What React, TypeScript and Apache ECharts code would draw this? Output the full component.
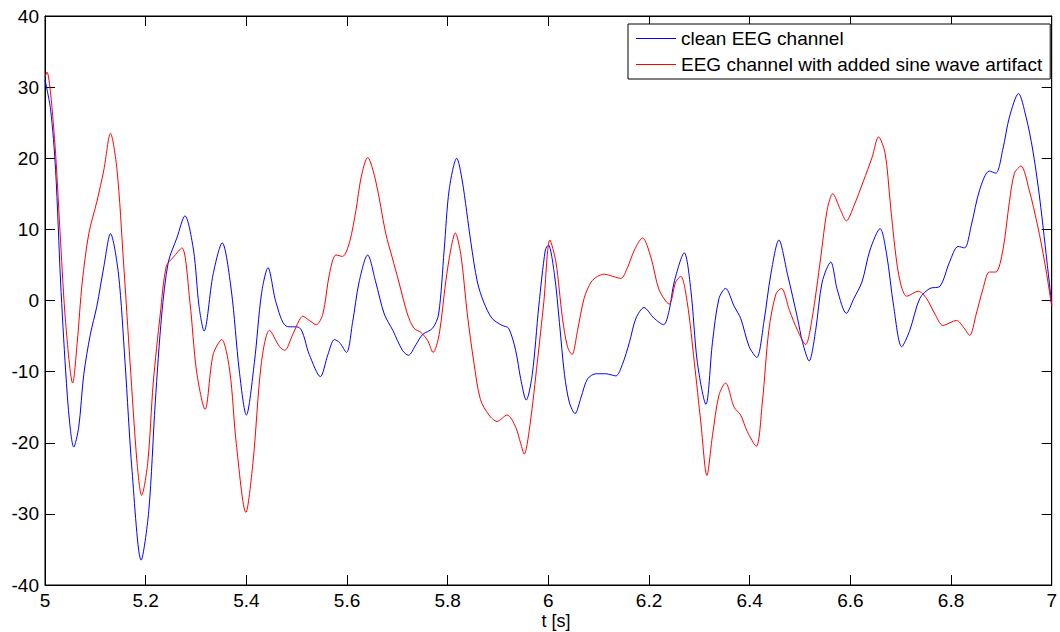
import React, { useEffect, useRef } from "react";
import * as echarts from "echarts";

const seriesNames = ["clean EEG channel", "EEG channel with added sine wave artifact"];
const xTicks = [5, 5.2, 5.4, 5.6, 5.8, 6, 6.2, 6.4, 6.6, 6.8, 7];
const yTicks = [-40, -30, -20, -10, 0, 10, 20, 30, 40];
const xLabel = "t [s]";

const blueT = [
  5.0, 5.011, 5.021, 5.031, 5.041, 5.049, 5.057, 5.067, 5.077, 5.09, 5.103, 5.117, 5.13, 5.146, 5.159, 5.173,
  5.191, 5.206, 5.219, 5.232, 5.245, 5.262, 5.278, 5.295, 5.306, 5.316, 5.334, 5.352, 5.37, 5.386, 5.4, 5.416,
  5.43, 5.443, 5.459, 5.479, 5.505, 5.525, 5.547, 5.562, 5.575, 5.585, 5.599, 5.611, 5.624, 5.641, 5.657, 5.674,
  5.691, 5.71, 5.722, 5.737, 5.75, 5.77, 5.782, 5.793, 5.803, 5.818, 5.829, 5.846, 5.859, 5.872, 5.888, 5.908,
  5.921, 5.935, 5.945, 5.956, 5.968, 5.981, 5.994, 6.0, 6.012, 6.022, 6.032, 6.042, 6.053, 6.065, 6.078, 6.095,
  6.114, 6.134, 6.147, 6.161, 6.174, 6.19, 6.21, 6.229, 6.24, 6.25, 6.27, 6.283, 6.296, 6.313, 6.326, 6.339,
  6.352, 6.369, 6.382, 6.399, 6.414, 6.428, 6.442, 6.458, 6.475, 6.495, 6.505, 6.518, 6.531, 6.544, 6.561, 6.574,
  6.592, 6.607, 6.623, 6.639, 6.659, 6.672, 6.686, 6.702, 6.718, 6.738, 6.758, 6.778, 6.797, 6.814, 6.827, 6.84,
  6.857, 6.876, 6.889, 6.903, 6.916, 6.934, 6.949, 6.962, 6.975, 6.988, 7.0,
];
const blueV = [
  31.0, 26.9, 18.4, 2.6, -9.9, -17.2, -20.6, -17.8, -10.4, -4.8, -0.8, 4.8, 9.4, 3.7, -8.7, -24.0,
  -36.5, -29.7, -14.4, -1.9, 5.4, 8.8, 11.9, 7.1, -0.8, -4.3, 3.7, 8.1, 1.5, -9.9, -16.1, -8.7,
  0.9, 4.6, -0.3, -3.6, -3.8, -7.6, -10.7, -7.6, -5.5, -5.9, -7.3, -3.1, 2.6, 6.4, 2.6, -1.9,
  -4.2, -7.0, -7.7, -6.2, -4.8, -3.9, -1.9, 7.1, 15.6, 20.0, 16.8, 8.2, 2.6, -0.3, -2.5, -3.5,
  -3.9, -7.0, -11.0, -14.0, -10.4, -0.8, 7.1, 7.8, 3.7, -3.1, -10.4, -14.4, -15.9, -13.6, -11.0, -10.3,
  -10.3, -10.6, -9.0, -5.9, -2.5, -1.0, -2.5, -3.4, -1.4, 2.6, 6.7, 1.5, -8.7, -14.6, -5.9, 0.3,
  1.7, -0.8, -2.5, -6.5, -8.0, -3.1, 3.7, 8.5, 3.7, -2.5, -5.9, -8.5, -4.2, 2.6, 5.4, 1.5,
  -1.8, 0.3, 2.6, 7.1, 10.1, 6.5, -0.8, -6.5, -4.2, 0.3, 1.7, 2.0, 5.4, 7.6, 7.4, 10.5,
  15.6, 18.2, 17.9, 21.3, 25.8, 29.1, 25.8, 21.3, 15.0, 7.1, -0.6,
];

const redT = [
  5.0, 5.004, 5.011, 5.021, 5.031, 5.041, 5.055, 5.064, 5.074, 5.087, 5.103, 5.117, 5.13, 5.143, 5.156, 5.169,
  5.183, 5.192, 5.204, 5.215, 5.229, 5.241, 5.255, 5.272, 5.288, 5.301, 5.318, 5.334, 5.351, 5.367, 5.38, 5.399,
  5.413, 5.43, 5.446, 5.466, 5.476, 5.492, 5.505, 5.512, 5.525, 5.539, 5.552, 5.565, 5.578, 5.591, 5.605, 5.618,
  5.628, 5.641, 5.657, 5.677, 5.69, 5.703, 5.72, 5.733, 5.747, 5.76, 5.771, 5.783, 5.796, 5.806, 5.815, 5.826,
  5.839, 5.852, 5.865, 5.882, 5.898, 5.918, 5.935, 5.945, 5.952, 5.964, 5.978, 5.991, 6.003, 6.015, 6.028, 6.038,
  6.047, 6.058, 6.071, 6.085, 6.098, 6.111, 6.128, 6.144, 6.157, 6.171, 6.187, 6.204, 6.22, 6.24, 6.253, 6.263,
  6.276, 6.29, 6.303, 6.315, 6.326, 6.339, 6.352, 6.369, 6.382, 6.395, 6.413, 6.425, 6.438, 6.452, 6.463, 6.479,
  6.495, 6.511, 6.524, 6.541, 6.554, 6.565, 6.58, 6.592, 6.607, 6.626, 6.643, 6.656, 6.669, 6.679, 6.689, 6.699,
  6.712, 6.735, 6.751, 6.768, 6.784, 6.811, 6.824, 6.837, 6.85, 6.863, 6.876, 6.889, 6.903, 6.916, 6.926, 6.939,
  6.955, 6.972, 6.986, 7.0,
];
const redV = [
  31.4, 32.1, 29.2, 20.7, 8.2, -3.1, -11.6, -5.9, 2.6, 9.4, 13.9, 18.4, 23.5, 18.4, 5.4, -8.7,
  -22.9, -27.4, -22.9, -11.6, -1.9, 4.8, 6.1, 7.4, -0.3, -9.9, -15.3, -7.6, -5.5, -9.9, -20.1, -29.8,
  -22.9, -8.7, -4.2, -6.5, -7.0, -4.8, -2.8, -2.2, -2.8, -3.4, -1.9, 3.7, 6.4, 6.2, 8.2, 12.8,
  17.3, 20.1, 16.8, 9.4, 6.0, 2.6, -1.9, -3.9, -4.5, -5.6, -7.3, -4.8, 2.6, 7.1, 9.5, 6.5,
  -1.9, -8.7, -13.9, -16.1, -17.0, -16.1, -17.8, -20.1, -21.6, -17.2, -8.7, -0.2, 8.5, 5.4, -2.5, -6.5,
  -7.6, -4.2, 0.3, 2.6, 3.4, 3.7, 3.4, 3.1, 4.6, 7.1, 8.8, 6.0, 1.5, -0.5, 2.6, 3.4,
  -0.3, -8.7, -17.2, -24.6, -19.0, -13.3, -11.6, -15.0, -16.1, -18.4, -20.5, -14.4, -4.2, 0.9, 1.7, -1.4,
  -4.2, -6.2, -2.5, 6.0, 12.8, 15.0, 12.8, 11.2, 13.3, 16.8, 20.1, 23.0, 20.7, 13.9, 7.1, 2.6,
  0.6, 1.3, 0.3, -1.9, -3.5, -2.8, -3.7, -4.9, -1.9, 1.5, 4.0, 4.0, 7.1, 13.9, 17.9, 18.9,
  15.6, 10.5, 5.4, -0.8,
];

const FONT = "'Liberation Sans', Arial, sans-serif";

export default function App() {
  const ref = useRef<HTMLDivElement>(null);
  useEffect(() => {
    document.body.style.margin = "0";
    const chart = echarts.init(ref.current!, null, { renderer: "svg" });
    const fmt = (v: number) => String(Math.round(v * 10) / 10);
    const axisCommon = {
      type: "value" as const,
      axisLine: { show: true, onZero: false, lineStyle: { color: "#000", width: 1 } },
      axisTick: { show: true, inside: true, length: 10, lineStyle: { color: "#000", width: 1 } },
      splitLine: { show: false },
    };
    chart.setOption({
      animation: false,
      backgroundColor: "#fff",
      textStyle: { fontFamily: FONT },
      grid: { left: 45, top: 16, right: 3, bottom: 47, show: true, borderColor: "#000", borderWidth: 1, containLabel: false },
      legend: {
        orient: "vertical",
        left: 628,
        top: 24,
        padding: [5, 8, 5, 8],
        itemGap: 7,
        itemWidth: 40,
        itemHeight: 1,
        icon: "rect",
        backgroundColor: "#fff",
        borderColor: "#000",
        borderWidth: 1,
        borderRadius: 0,
        textStyle: { fontFamily: FONT, fontSize: 19, color: "#000", lineHeight: 19 },
        data: seriesNames,
      },
      xAxis: [
        {
          ...axisCommon,
          min: xTicks[0],
          max: xTicks[xTicks.length - 1],
          interval: 0.2,
          axisLabel: { show: true, color: "#000", fontSize: 19, fontFamily: FONT, margin: 6, formatter: fmt },
        },
        {
          ...axisCommon,
          position: "top",
          min: xTicks[0],
          max: xTicks[xTicks.length - 1],
          interval: 0.2,
          axisLabel: { show: false },
        },
      ],
      yAxis: [
        {
          ...axisCommon,
          min: yTicks[0],
          max: yTicks[yTicks.length - 1],
          interval: 10,
          axisLabel: { show: true, color: "#000", fontSize: 19, fontFamily: FONT, margin: 6, formatter: fmt },
        },
        {
          ...axisCommon,
          position: "right",
          min: yTicks[0],
          max: yTicks[yTicks.length - 1],
          interval: 10,
          axisLabel: { show: false },
        },
      ],
      graphic: [
        {
          type: "text",
          x: 556,
          y: 621,
          style: { text: xLabel, fontSize: 18, fontFamily: FONT, fill: "#000", align: "center", verticalAlign: "middle" },
        },
      ],
      series: [
        {
          name: seriesNames[0],
          type: "line",
          data: blueT.map((t, i) => [t, blueV[i]]),
          showSymbol: false,
          smooth: 0.3,
          color: "#0000ff",
          lineStyle: { color: "#0000ff", width: 1 },
        },
        {
          name: seriesNames[1],
          type: "line",
          data: redT.map((t, i) => [t, redV[i]]),
          showSymbol: false,
          smooth: 0.3,
          color: "#ff0000",
          lineStyle: { color: "#ff0000", width: 1 },
        },
      ],
    });
    return () => chart.dispose();
  }, []);
  return <div ref={ref} style={{ width: 1060, height: 632 }} />;
}
